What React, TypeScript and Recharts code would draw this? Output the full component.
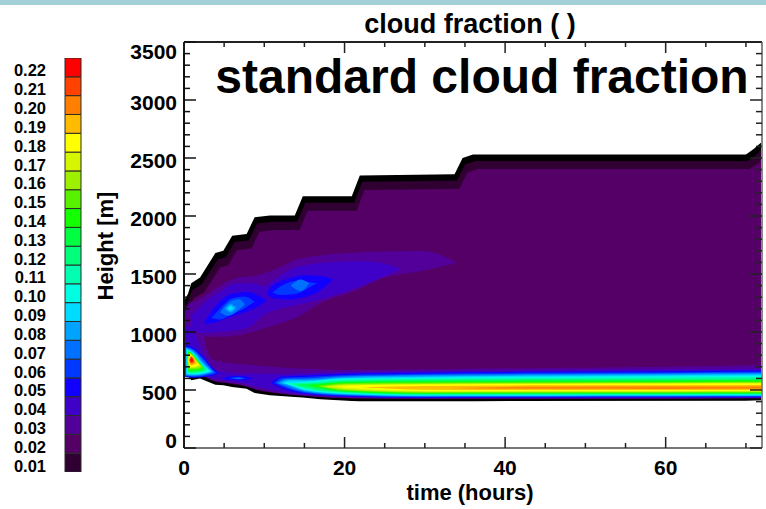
import { ComposedChart, Area, XAxis, YAxis, BarChart, Bar } from 'recharts';

type Pt = [number, number, number]; // hours, lower edge (m), upper edge (m)
type Contour = { level: number; pts: Pt[] };

const FONT = '"Liberation Sans", Arial, Helvetica, sans-serif';

const LEVELS = ['0.01', '0.02', '0.03', '0.04', '0.05', '0.06', '0.07', '0.08', '0.09', '0.10', '0.11',
  '0.12', '0.13', '0.14', '0.15', '0.16', '0.17', '0.18', '0.19', '0.20', '0.21', '0.22'];
const LEVEL_COLORS = ['#300032', '#540066', '#53009a', '#3f00c8', '#1200ff', '#0038ff', '#0070ff', '#00a4ff',
  '#00dcff', '#00ffe2', '#00ffb0', '#00ff7a', '#00ff40', '#14ff00', '#58f200', '#9cf000', '#d6f600',
  '#ffff00', '#ffbb00', '#ff8000', '#ff4200', '#ff0000'];
const EDGE_COLOR = '#000000';

const X_TICKS = [0, 5, 10, 15, 20, 25, 30, 35, 40, 45, 50, 55, 60, 65, 70];
const Y_TICKS = [0, 100, 200, 300, 400, 500, 600, 700, 800, 900, 1000, 1100, 1200, 1300, 1400, 1500, 1600,
  1700, 1800, 1900, 2000, 2100, 2200, 2300, 2400, 2500, 2600, 2700, 2800, 2900, 3000, 3100, 3200, 3300, 3400, 3500];

// cloud envelope: outer edge, 0.01 shell, 0.02 core
const OUTLINE: Pt[] = [
  [0, 690, 1270], [0.5, 620, 1330], [0.9, 585, 1420], [2, 600, 1470], [3.9, 545, 1680], [4.9, 540, 1700],
  [6, 525, 1830], [7.8, 510, 1845], [8.8, 475, 1990], [10.7, 455, 2005], [13.8, 440, 2005], [14.8, 435, 2170],
  [17, 420, 2170], [20.9, 405, 2170], [21.9, 404, 2350], [33.7, 404, 2360], [34.7, 404, 2500], [36, 404, 2530],
  [70, 408, 2530], [71, 410, 2580], [72, 412, 2640],
];
const SHELL: Pt[] = [
  [0, 700, 1210], [0.55, 640, 1270], [1, 610, 1360], [2.2, 620, 1410], [4.2, 565, 1625], [5.2, 560, 1645],
  [6.3, 545, 1775], [8.1, 530, 1790], [9.1, 495, 1935], [11, 475, 1950], [14.1, 460, 1950], [15.1, 455, 2115],
  [17.3, 440, 2115], [21.2, 425, 2115], [22.2, 424, 2295], [34, 424, 2305], [35, 424, 2445], [36.3, 424, 2475],
  [70.2, 428, 2475], [71.3, 430, 2525], [72, 432, 2580],
];
const CORE: Pt[] = [
  [0, 710, 1140], [0.6, 650, 1200], [1.2, 625, 1290], [2.5, 630, 1340], [4.5, 580, 1555], [5.5, 575, 1575],
  [6.6, 560, 1705], [8.4, 545, 1720], [9.4, 510, 1865], [11.3, 490, 1880], [14.4, 475, 1880], [15.4, 470, 2045],
  [17.6, 455, 2045], [21.5, 440, 2045], [22.5, 440, 2225], [34.3, 440, 2235], [35.3, 440, 2375], [36.6, 440, 2405],
  [70.4, 444, 2405], [71.6, 446, 2455], [72, 448, 2500],
];

// low-level layer along the surface: left column, shallow strip and the stratocumulus band
const LOW_LAYER: Contour[] = [
  { level: 0.03, pts: [[0, 700, 1150], [0.5, 640, 1230], [1, 615, 1260], [2, 625, 1120], [2.8, 610, 860],
    [3.5, 585, 770], [5, 565, 740], [7, 545, 725], [9, 505, 712], [11, 480, 700], [13, 462, 690], [16, 445, 680],
    [20, 432, 672], [30, 425, 678], [45, 424, 690], [60, 425, 700], [72, 428, 715]] },
  { level: 0.04, pts: [[0.1, 720, 1000], [0.6, 650, 1060], [1.5, 630, 960], [2.5, 620, 810], [3.5, 600, 700],
    [5, 585, 655], [7, 565, 645], [9, 530, 640], [11, 500, 638], [13, 475, 642], [15, 462, 645], [20, 440, 652],
    [30, 430, 662], [45, 431, 670], [60, 432, 676], [72, 435, 684]] },
];

// hot spot at the start of the run
const HOT_SPOT: Contour[] = [
  { level: 0.05, pts: [[0.1, 615, 885], [1.2, 605, 865], [2.5, 612, 780], [3.6, 625, 690], [4.4, 642, 642]] },
  { level: 0.06, pts: [[0.15, 620, 875], [1.2, 612, 852], [2.5, 620, 765], [3.5, 632, 682], [4.1, 645, 645]] },
  { level: 0.07, pts: [[0.2, 625, 868], [1.2, 618, 842], [2.5, 627, 750], [3.8, 650, 650]] },
  { level: 0.08, pts: [[0.25, 630, 862], [1.2, 625, 832], [2.4, 634, 737], [3.6, 655, 655]] },
  { level: 0.09, pts: [[0.3, 635, 856], [1.2, 632, 822], [2.4, 640, 722], [3.4, 660, 660]] },
  { level: 0.1, pts: [[0.35, 640, 850], [1.2, 638, 812], [2.3, 646, 708], [3.2, 664, 664]] },
  { level: 0.11, pts: [[0.4, 645, 845], [1.2, 643, 803], [2.2, 652, 695], [3, 668, 668]] },
  { level: 0.12, pts: [[0.45, 652, 840], [1.2, 650, 796], [2.8, 672, 672]] },
  { level: 0.13, pts: [[0.5, 658, 835], [1.2, 656, 790], [2.6, 676, 676]] },
  { level: 0.14, pts: [[0.35, 760, 760], [0.6, 668, 830], [1.5, 668, 775], [2.4, 685, 685]] },
  { level: 0.15, pts: [[0.4, 760, 760], [0.65, 676, 823], [1.5, 676, 770], [2.3, 692, 692]] },
  { level: 0.16, pts: [[0.45, 758, 758], [0.7, 684, 816], [1.4, 685, 765], [2.2, 700, 700]] },
  { level: 0.17, pts: [[0.5, 756, 756], [0.75, 692, 810], [1.4, 695, 760], [2, 708, 708]] },
  { level: 0.18, pts: [[0.55, 755, 755], [0.8, 700, 804], [1.4, 705, 755], [1.9, 718, 718]] },
  { level: 0.19, pts: [[0.6, 755, 755], [0.85, 712, 796], [1.6, 730, 730]] },
  { level: 0.2, pts: [[0.65, 756, 756], [0.9, 722, 790], [1.35, 740, 740]] },
  { level: 0.21, pts: [[0.7, 757, 757], [0.9, 732, 785], [1.25, 748, 748]] },
  { level: 0.22, pts: [[0.75, 758, 758], [0.95, 742, 778], [1.15, 755, 755]] },
];

const BAND: Contour[] = [
  { level: 0.05, pts: [[10.8, 560, 560], [12, 520, 615], [15, 468, 625], [20, 445, 640], [30, 434, 650], [45, 436, 658], [60, 437, 662], [72, 438, 668]] },
  { level: 0.06, pts: [[11.2, 560, 560], [12.3, 525, 605], [15, 475, 612], [20, 450, 630], [30, 438, 640], [45, 440, 648], [60, 441, 652], [72, 442, 658]] },
  { level: 0.07, pts: [[11.5, 560, 560], [12.6, 530, 598], [15, 482, 600], [20, 455, 620], [30, 442, 632], [45, 444, 640], [60, 445, 645], [72, 446, 650]] },
  { level: 0.08, pts: [[11.8, 560, 560], [13, 535, 590], [15, 490, 590], [20, 460, 612], [30, 446, 624], [45, 447, 632], [60, 448, 637], [72, 449, 642]] },
  { level: 0.09, pts: [[12.2, 560, 560], [13.3, 540, 582], [15, 497, 580], [20, 465, 604], [30, 450, 615], [45, 451, 623], [60, 452, 628], [72, 453, 633]] },
  { level: 0.1, pts: [[12.6, 558, 558], [15, 505, 570], [20, 470, 596], [30, 454, 606], [45, 455, 613], [60, 456, 618], [72, 457, 623]] },
  { level: 0.11, pts: [[13, 556, 556], [15, 512, 562], [20, 475, 588], [30, 458, 597], [45, 459, 603], [60, 460, 608], [72, 461, 612]] },
  { level: 0.12, pts: [[13.5, 553, 553], [15, 520, 554], [20, 480, 580], [30, 462, 588], [45, 463, 592], [60, 464, 597], [72, 465, 600]] },
  { level: 0.13, pts: [[14, 550, 550], [15.5, 530, 548], [20, 485, 572], [30, 466, 580], [45, 467, 583], [60, 468, 587], [72, 469, 590]] },
  { level: 0.14, pts: [[15.5, 540, 540], [20, 490, 565], [30, 470, 572], [45, 471, 575], [60, 472, 578], [72, 473, 581]] },
  { level: 0.15, pts: [[16.5, 535, 535], [20, 495, 558], [30, 474, 565], [45, 475, 568], [60, 476, 570], [72, 477, 573]] },
  { level: 0.16, pts: [[17, 530, 530], [20, 500, 552], [30, 479, 558], [45, 480, 561], [60, 481, 563], [72, 482, 566]] },
  { level: 0.17, pts: [[17.5, 528, 528], [20, 508, 545], [30, 484, 552], [45, 486, 556], [60, 487, 558], [72, 488, 560]] },
  { level: 0.18, pts: [[19, 528, 528], [22, 512, 540], [30, 490, 547], [45, 490, 552], [60, 490, 554], [72, 491, 556]] },
  { level: 0.19, pts: [[22, 524, 524], [30, 503, 534], [45, 500, 540], [60, 500, 541], [72, 501, 543]] },
  { level: 0.2, pts: [[33, 518, 518], [45, 510, 528], [60, 509, 530], [72, 510, 531]] },
];

// elevated cloud between 1000 and 1700 m
const UPPER_LAYER: Contour[] = [
  { level: 0.03, pts: [[0.8, 1000, 1240], [2.4, 960, 1300], [4, 958, 1380], [6.6, 970, 1465], [9, 1010, 1485], [12, 1075, 1560],
    [14, 1125, 1625], [17, 1250, 1660], [21.5, 1360, 1685], [24, 1445, 1692], [29.8, 1530, 1698], [34, 1598, 1598]] },
  { level: 0.04, pts: [[1, 1020, 1150], [2.5, 990, 1250], [4.5, 1000, 1350], [6.5, 1012, 1420], [8.5, 1060, 1420], [10, 1150, 1395],
    [11, 1180, 1440], [14, 1230, 1560], [18, 1300, 1600], [22, 1395, 1610], [25, 1480, 1590], [27, 1540, 1540]] },
];
const UPPER_A: Contour[] = [
  { level: 0.05, pts: [[2.6, 1070, 1095], [4, 1085, 1230], [6, 1135, 1330], [8, 1180, 1345], [9.5, 1230, 1305], [10.3, 1272, 1272]] },
  { level: 0.06, pts: [[3.4, 1120, 1120], [4.5, 1108, 1205], [6, 1158, 1292], [7.5, 1200, 1305], [8.8, 1262, 1262]] },
  { level: 0.07, pts: [[4.5, 1170, 1170], [5.5, 1140, 1250], [6.8, 1188, 1282], [7.6, 1240, 1240]] },
  { level: 0.08, pts: [[5.1, 1200, 1200], [5.8, 1168, 1242], [6.5, 1210, 1210]] },
  { level: 0.09, pts: [[5.4, 1200, 1200], [5.8, 1184, 1226], [6.2, 1205, 1205]] },
];
const UPPER_B: Contour[] = [
  { level: 0.05, pts: [[10.3, 1330, 1330], [11, 1292, 1400], [13, 1280, 1460], [15, 1300, 1490], [17, 1360, 1482], [18.6, 1455, 1455]] },
  { level: 0.06, pts: [[11, 1340, 1340], [12, 1318, 1392], [14, 1330, 1442], [15.5, 1380, 1432], [16.6, 1420, 1420]] },
  { level: 0.07, pts: [[13.3, 1400, 1400], [14.5, 1352, 1452], [15.6, 1420, 1420]] },
];
const SMALL_SPOT: Contour[] = [
  { level: 0.05, pts: [[4.8, 600, 600], [6, 584, 620], [7.5, 584, 618], [8.6, 598, 598]] },
  { level: 0.06, pts: [[5.6, 602, 602], [6.5, 592, 612], [7.8, 600, 600]] },
  { level: 0.07, pts: [[6.2, 601, 601], [6.9, 595, 607], [7.4, 601, 601]] },
];

const colorOf = (level: number) => LEVEL_COLORS[Math.round(level * 100) - 1];

type Layer = { fill: string; pts: Pt[]; curve: 'linear' | 'monotone' };

const contourLayers: Layer[] = [...LOW_LAYER, ...UPPER_LAYER, ...HOT_SPOT, ...BAND, ...UPPER_A, ...UPPER_B, ...SMALL_SPOT]
  .map((c, i) => ({ c, i }))
  .sort((a, b) => a.c.level - b.c.level || a.i - b.i)
  .map(({ c }) => ({ fill: colorOf(c.level), pts: c.pts, curve: 'monotone' as const }));

const layers: Layer[] = [
  { fill: EDGE_COLOR, pts: OUTLINE, curve: 'linear' },
  { fill: colorOf(0.01), pts: SHELL, curve: 'linear' },
  { fill: colorOf(0.02), pts: CORE, curve: 'linear' },
  ...contourLayers,
];

const times = Array.from(new Set(layers.flatMap((l) => l.pts.map((p) => p[0])))).sort((a, b) => a - b);
const rows = times.map((t) => {
  const row: Record<string, any> = { t };
  layers.forEach((l, i) => {
    const p = l.pts.find((q) => q[0] === t);
    row[`s${i}`] = p ? [p[1], p[2]] : null;
  });
  return row;
});

const colorbarRow: Record<string, any> = { name: 'cf' };
LEVELS.forEach((_, i) => { colorbarRow[`c${i}`] = 1; });

const labelStyle = { fontFamily: FONT, fontWeight: 700, fill: '#000' };

const LeftTick = ({ x, y, payload }: any) => {
  const v = payload.value;
  const major = v % 500 === 0;
  const dy = v === 3500 ? 9 : v === 0 ? -8 : 2;
  return (
    <g>
      <line x1={x} x2={x + (major ? 12 : 6)} y1={y} y2={y} stroke="#111" strokeWidth={1.5} />
      {major && (
        <text x={x - 7} y={y + dy} textAnchor="end" dominantBaseline="central" fontSize={21} {...labelStyle}>{v}</text>
      )}
    </g>
  );
};
const RightTick = ({ x, y, payload }: any) => {
  const major = payload.value % 500 === 0;
  return <line x1={x} x2={x - (major ? 12 : 6)} y1={y} y2={y} stroke="#222" strokeWidth={1.5} />;
};
const BottomTick = ({ x, y, payload }: any) => {
  const v = payload.value;
  const major = v % 20 === 0;
  return (
    <g>
      <line x1={x} x2={x} y1={y} y2={y - (major ? 11 : 5)} stroke="#222" strokeWidth={1.5} />
      {major && (
        <text x={x} y={y + 27} textAnchor="middle" fontSize={21} {...labelStyle}>{v}</text>
      )}
    </g>
  );
};
const TopTick = ({ x, y, payload }: any) => {
  const major = payload.value % 20 === 0;
  return <line x1={x} x2={x} y1={y} y2={y + (major ? 11 : 5)} stroke="#222" strokeWidth={1.5} />;
};
const ColorbarTick = ({ x, y, payload }: any) => (
  <text x={x - 19} y={y + 3} textAnchor="end" dominantBaseline="central" fontSize={16.5} {...labelStyle}>
    {LEVELS[Math.floor(payload.value)]}
  </text>
);

export default function App() {
  return (
    <div style={{ position: 'absolute', left: 0, top: 0, width: 766, height: 509, background: '#fff', overflow: 'hidden' }}>
      <div style={{ position: 'absolute', left: 0, top: 0, width: 766, height: 5, background: '#a3cfd7' }} />

      <div style={{ position: 'absolute', left: 0, top: 0 }}>
        <BarChart width={90} height={509} data={[colorbarRow]} margin={{ top: 58, right: 9, bottom: 37, left: 25 }} barCategoryGap={0}>
          <XAxis dataKey="name" type="category" hide />
          <YAxis type="number" domain={[0, 22]} ticks={LEVELS.map((_, i) => i + 0.5)} interval={0} width={40}
            axisLine={false} tickLine={false} tickSize={0} tickMargin={0} tick={ColorbarTick} allowDataOverflow />
          {LEVELS.map((_, i) => (
            <Bar key={i} dataKey={`c${i}`} stackId="cb" fill={LEVEL_COLORS[i]} stroke="#2b2b2b" strokeWidth={1}
              isAnimationActive={false} />
          ))}
        </BarChart>
      </div>

      <div style={{ position: 'absolute', left: 0, top: 0 }}>
        <ComposedChart width={766} height={509} data={rows} margin={{ top: 41, right: 3, bottom: 31, left: 124 }}>
          {layers.map((l, i) => (
            <Area key={i} xAxisId="b" yAxisId="l" dataKey={`s${i}`} type={l.curve} fill={l.fill} fillOpacity={1}
              stroke="none" connectNulls dot={false} activeDot={false} isAnimationActive={false} />
          ))}
          <XAxis xAxisId="b" type="number" dataKey="t" domain={[0, 72]} ticks={X_TICKS} interval={0} allowDataOverflow
            height={30} tickSize={0} tickMargin={0} tickLine={false} tick={BottomTick}
            axisLine={{ stroke: '#777', strokeWidth: 2 }} />
          <XAxis xAxisId="t" orientation="top" type="number" dataKey="t" domain={[0, 72]} ticks={X_TICKS} interval={0}
            allowDataOverflow height={1} tickSize={0} tickMargin={0} tickLine={false} tick={TopTick}
            axisLine={{ stroke: '#222', strokeWidth: 2 }} />
          <YAxis yAxisId="l" type="number" domain={[0, 3500]} ticks={Y_TICKS} interval={0} allowDataOverflow
            width={60} tickSize={0} tickMargin={0} tickLine={false} tick={LeftTick}
            axisLine={{ stroke: '#111', strokeWidth: 2 }} />
          <YAxis yAxisId="r" orientation="right" type="number" domain={[0, 3500]} ticks={Y_TICKS} interval={0}
            allowDataOverflow width={1} tickSize={0} tickMargin={0} tickLine={false} tick={RightTick}
            axisLine={{ stroke: '#888', strokeWidth: 2 }} />
        </ComposedChart>
      </div>

      <svg width={766} height={509} style={{ position: 'absolute', left: 0, top: 0, pointerEvents: 'none' }}>
        <text x={470} y={33} textAnchor="middle" fontSize={27} {...labelStyle}>cloud fraction ( )</text>
        <text x={482} y={93} textAnchor="middle" fontSize={48} {...labelStyle}>standard cloud fraction</text>
        <text x={470} y={500} textAnchor="middle" fontSize={22} {...labelStyle}>time (hours)</text>
        <text x={105} y={246} textAnchor="middle" dominantBaseline="central" fontSize={22} transform="rotate(-90 105 246)"
          {...labelStyle}>Height [m]</text>
      </svg>
    </div>
  );
}
